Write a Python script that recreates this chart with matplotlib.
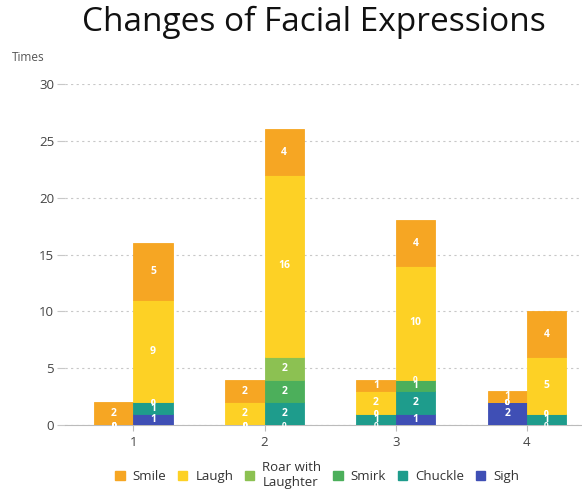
import numpy as np
import matplotlib
matplotlib.use('Agg')
import matplotlib.pyplot as plt
from matplotlib.patches import Patch

plt.rcParams['font.family'] = ['Open Sans', 'DejaVu Sans']

groups = [1, 2, 3, 4]
series = ['Smile', 'Laugh', 'Roar with\nLaughter', 'Smirk', 'Chuckle', 'Sigh']
colors = ['#F6A623', '#FDD125', '#8CC152', '#4CAF5B', '#1E9C8C', '#3F4FB5']

# stacked from the bottom: Sigh, Chuckle, Smirk, Roar, Laugh, Smile
sigh_a = [0, 0, 0, 2]
chuckle_a = [0, 0, 1, 0]
smirk_a = [0, 0, 0, 0]
roar_a = [0, 0, 0, 0]
laugh_a = [0, 2, 2, 0]
smile_a = [2, 2, 1, 1]

sigh_b = [1, 0, 1, 0]
chuckle_b = [1, 2, 2, 1]
smirk_b = [0, 2, 1, 0]
roar_b = [0, 2, 0, 0]
laugh_b = [9, 16, 10, 5]
smile_b = [5, 4, 4, 4]

stack_a = [sigh_a, chuckle_a, smirk_a, roar_a, laugh_a, smile_a]
stack_b = [sigh_b, chuckle_b, smirk_b, roar_b, laugh_b, smile_b]
stack_colors = colors[::-1]


def draw_stack(ax, x, stack):
    bottom = np.zeros(len(x))
    for vals, c in zip(stack, stack_colors):
        vals = np.array(vals, dtype=float)
        ax.bar(x, vals, width=0.3, bottom=bottom, color=c, edgecolor=c,
               linewidth=0.6, zorder=3)
        for xi, b, v in zip(x, bottom, vals):
            # empty segments still get a (squashed) label
            fs = 7.5 if v > 0 else 6
            ax.text(xi, b + v / 2, '%d' % v, ha='center', va='center',
                    color='white', fontsize=fs, fontweight='bold', zorder=4)
        bottom += vals


fig = plt.figure(figsize=(5.82, 4.91), dpi=100)
ax = fig.add_axes([0.112, 0.134, 0.888, 0.695])

x = np.array(groups, dtype=float)
draw_stack(ax, x - 0.15, stack_a)
draw_stack(ax, x + 0.15, stack_b)

ax.set_xlim(0.48, 4.42)
ax.set_ylim(0, 30)
ax.set_yticks(range(0, 31, 5))
ax.set_xticks(groups)
ax.yaxis.grid(True, linestyle=(0, (2, 3)), color='#c8c8c8', linewidth=0.8, zorder=0)
for s in ['top', 'right', 'left']:
    ax.spines[s].set_visible(False)
ax.spines['bottom'].set_color('#bbbbbb')
ax.tick_params(axis='y', length=6, color='#c8c8c8', labelsize=9.5, labelcolor='#444444', pad=2)
ax.tick_params(axis='x', length=4, color='#bbbbbb', labelsize=9.5, labelcolor='#444444')

fig.text(0.02, 0.875, 'Times', fontsize=8.5, color='#555555')
fig.text(0.54, 0.955, 'Changes of Facial Expressions', fontsize=24, ha='center',
         va='center', color='#111111')

handles = [Patch(facecolor=c, edgecolor=c) for c in colors]
fig.legend(handles, series, loc='center', bbox_to_anchor=(0.545, 0.033), ncol=6,
           frameon=False, fontsize=9.5, handlelength=0.7, handleheight=0.7,
           handletextpad=0.6, columnspacing=0.9, labelcolor='#333333')

fig.savefig('out.png', dpi=100)
